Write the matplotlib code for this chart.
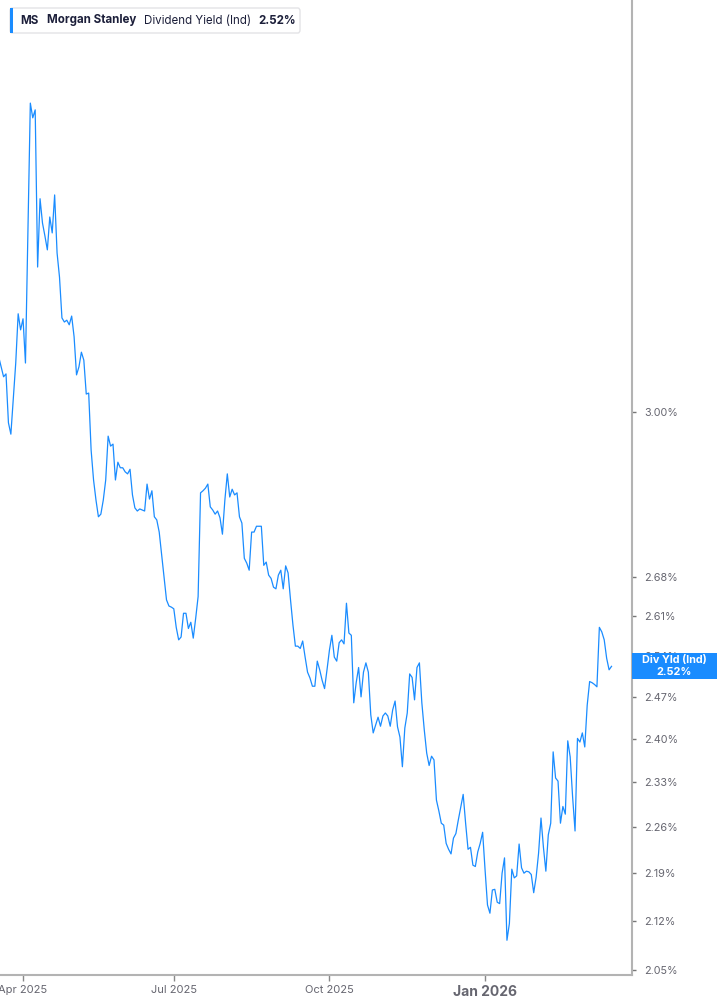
import numpy as np
import pandas as pd
import matplotlib
matplotlib.use("Agg")
import matplotlib.pyplot as plt
from matplotlib.patches import Rectangle, FancyBboxPatch

plt.rcParams['font.family'] = ['Inter', 'DejaVu Sans']

# trading days (NYSE holidays removed)
holidays = ['2025-04-18', '2025-05-26', '2025-06-19', '2025-07-04', '2025-09-01',
            '2025-11-27', '2025-12-25', '2026-01-01', '2026-01-19', '2026-02-16']
start_date = '2025-03-18'
end_date = '2026-03-19'

# dividend yield (%), one per trading day
values = [
    3.115, 3.094, 3.073, 3.079, 2.978, 2.955, 3.029, 3.102, 3.208, 3.173,
    3.197, 3.102, 3.390, 3.704, 3.667, 3.687, 3.312, 3.470, 3.413, 3.383,
    3.351, 3.427, 3.390, 3.479, 3.344, 3.289, 3.199, 3.190, 3.194, 3.184,
    3.203, 3.158, 3.077, 3.094, 3.125, 3.108, 3.037, 3.039, 2.923, 2.864,
    2.825, 2.793, 2.798, 2.825, 2.864, 2.951, 2.931, 2.935, 2.864, 2.899,
    2.888, 2.888, 2.880, 2.876, 2.885, 2.835, 2.810, 2.804, 2.808, 2.806,
    2.804, 2.856, 2.827, 2.843, 2.793, 2.787, 2.764, 2.721, 2.680, 2.639,
    2.628, 2.626, 2.623, 2.590, 2.568, 2.573, 2.615, 2.615, 2.588, 2.599,
    2.571, 2.606, 2.645, 2.839, 2.843, 2.848, 2.856, 2.812, 2.806, 2.798,
    2.804, 2.791, 2.760, 2.825, 2.876, 2.831, 2.846, 2.835, 2.839, 2.793,
    2.781, 2.715, 2.706, 2.693, 2.764, 2.764, 2.775, 2.775, 2.775, 2.702,
    2.708, 2.684, 2.678, 2.662, 2.659, 2.684, 2.693, 2.659, 2.701, 2.688,
    2.639, 2.594, 2.557, 2.557, 2.553, 2.566, 2.538, 2.512, 2.502, 2.488,
    2.488, 2.531, 2.516, 2.498, 2.484, 2.516, 2.550, 2.576, 2.538, 2.531,
    2.563, 2.568, 2.561, 2.633, 2.580, 2.576, 2.460, 2.494, 2.520, 2.470,
    2.512, 2.528, 2.512, 2.440, 2.410, 2.423, 2.436, 2.421, 2.438, 2.443,
    2.438, 2.421, 2.448, 2.463, 2.420, 2.403, 2.355, 2.418, 2.443, 2.509,
    2.503, 2.465, 2.520, 2.528, 2.460, 2.415, 2.377, 2.357, 2.372, 2.366,
    2.302, 2.285, 2.266, 2.263, 2.235, 2.226, 2.219, 2.243, 2.250, 2.271,
    2.291, 2.311, 2.266, 2.226, 2.229, 2.202, 2.200, 2.222, 2.235, 2.252,
    2.195, 2.143, 2.131, 2.165, 2.166, 2.147, 2.145, 2.190, 2.213, 2.092,
    2.116, 2.196, 2.183, 2.186, 2.234, 2.198, 2.190, 2.193, 2.192, 2.188,
    2.161, 2.184, 2.220, 2.274, 2.229, 2.193, 2.248, 2.266, 2.379, 2.337,
    2.332, 2.266, 2.292, 2.280, 2.397, 2.371, 2.307, 2.254, 2.401, 2.395,
    2.410, 2.387, 2.456, 2.496, 2.494, 2.491, 2.487, 2.590, 2.582, 2.568,
    2.536, 2.516, 2.522,
]

ytick_vals = [2.05, 2.12, 2.19, 2.26, 2.33, 2.40, 2.47, 2.54, 2.61, 2.68, 3.00]
month_ticks = ['2025-04', '2025-07', '2025-10', '2026-01']
month_labels = ['Apr 2025', 'Jul 2025', 'Oct 2025', 'Jan 2026']

line_color = '#1a8cff'
axis_color = '#b3b3b3'
label_color = '#666670'

cbd = pd.offsets.CustomBusinessDay(holidays=holidays)
dates = pd.date_range(start_date, end_date, freq=cbd)[:len(values)]
idx = np.arange(len(values))

fig = plt.figure(figsize=(7.17, 10.05), dpi=100)
W, H = 717, 1005
ax = fig.add_axes([0, 30 / H, 631.7 / W, 975 / H])

ax.plot(idx, values, color=line_color, lw=0.9)
ax.set_yscale('log')
ax.set_ylim(2.043, 3.974)
ax.set_xlim(0.53, 260.3)

ax.yaxis.tick_right()
ax.yaxis.set_minor_locator(matplotlib.ticker.NullLocator())
ax.set_yticks(ytick_vals)
ax.set_yticklabels([f'{v:.2f}%' for v in ytick_vals])
ax.tick_params(axis='y', which='major', direction='out', length=3, width=1,
               color='#777777', labelsize=7.8, labelcolor=label_color, pad=6)

# x ticks at first trading day of each quarter-month
xt = []
for m in month_ticks:
    pos = np.where(dates.strftime('%Y-%m') == m)[0]
    xt.append(pos[0])
ax.set_xticks(xt)
ax.set_xticklabels(month_labels)
ax.tick_params(axis='x', direction='out', length=4, width=1, color='#888888',
               labelsize=8, labelcolor=label_color, pad=3)
for lab in ax.get_xticklabels():
    if lab.get_text().startswith('Jan'):
        lab.set_fontweight('bold')
        lab.set_fontsize(10)

for s in ['top', 'left']:
    ax.spines[s].set_visible(False)
ax.spines['right'].set_color(axis_color)
ax.spines['bottom'].set_color(axis_color)
ax.spines['right'].set_linewidth(1.5)
ax.spines['bottom'].set_linewidth(1.5)

# last value box on the right axis
last = values[-1]
fig.canvas.draw()
ypix = ax.transData.transform((0, last))[1]
box_h = 26
fig.add_artist(Rectangle((632 / W, (ypix - box_h / 2) / H), 85 / W, box_h / H,
                         transform=fig.transFigure, color=line_color, zorder=5, lw=0))
fig.text(674 / W, (ypix + 6) / H, 'Div Yld (Ind)', color='white', fontsize=7.8,
         fontweight='bold', ha='center', va='center', zorder=6)
fig.text(674 / W, (ypix - 6) / H, f'{last:.2f}%', color='white', fontsize=7.8,
         fontweight='bold', ha='center', va='center', zorder=6)

# legend header
fig.add_artist(FancyBboxPatch((10 / W, (H - 33) / H), 290 / W, 25 / H,
                              boxstyle='round,pad=0,rounding_size=0.003',
                              transform=fig.transFigure, facecolor='white',
                              edgecolor='#e3e3e6', lw=1, zorder=5))
fig.add_artist(Rectangle((10 / W, (H - 33) / H), 3 / W, 25 / H,
                         transform=fig.transFigure, color=line_color, zorder=6, lw=0))
ty = (H - 20.5) / H
dark = '#1c1f3a'
fig.text(20 / W, ty, 'MS', fontsize=8.3, fontweight='bold', color=dark, va='center', zorder=7)
fig.text(47 / W, ty, 'Morgan Stanley', fontsize=8.3, fontweight='bold', color=dark, va='center', zorder=7)
fig.text(144 / W, ty, 'Dividend Yield (Ind)', fontsize=8.3, color=dark, va='center', zorder=7)
fig.text(258 / W, ty, f'{last:.2f}%', fontsize=8.3, fontweight='bold', color=dark, va='center', zorder=7)

fig.savefig('out.png', dpi=100, facecolor='white')
